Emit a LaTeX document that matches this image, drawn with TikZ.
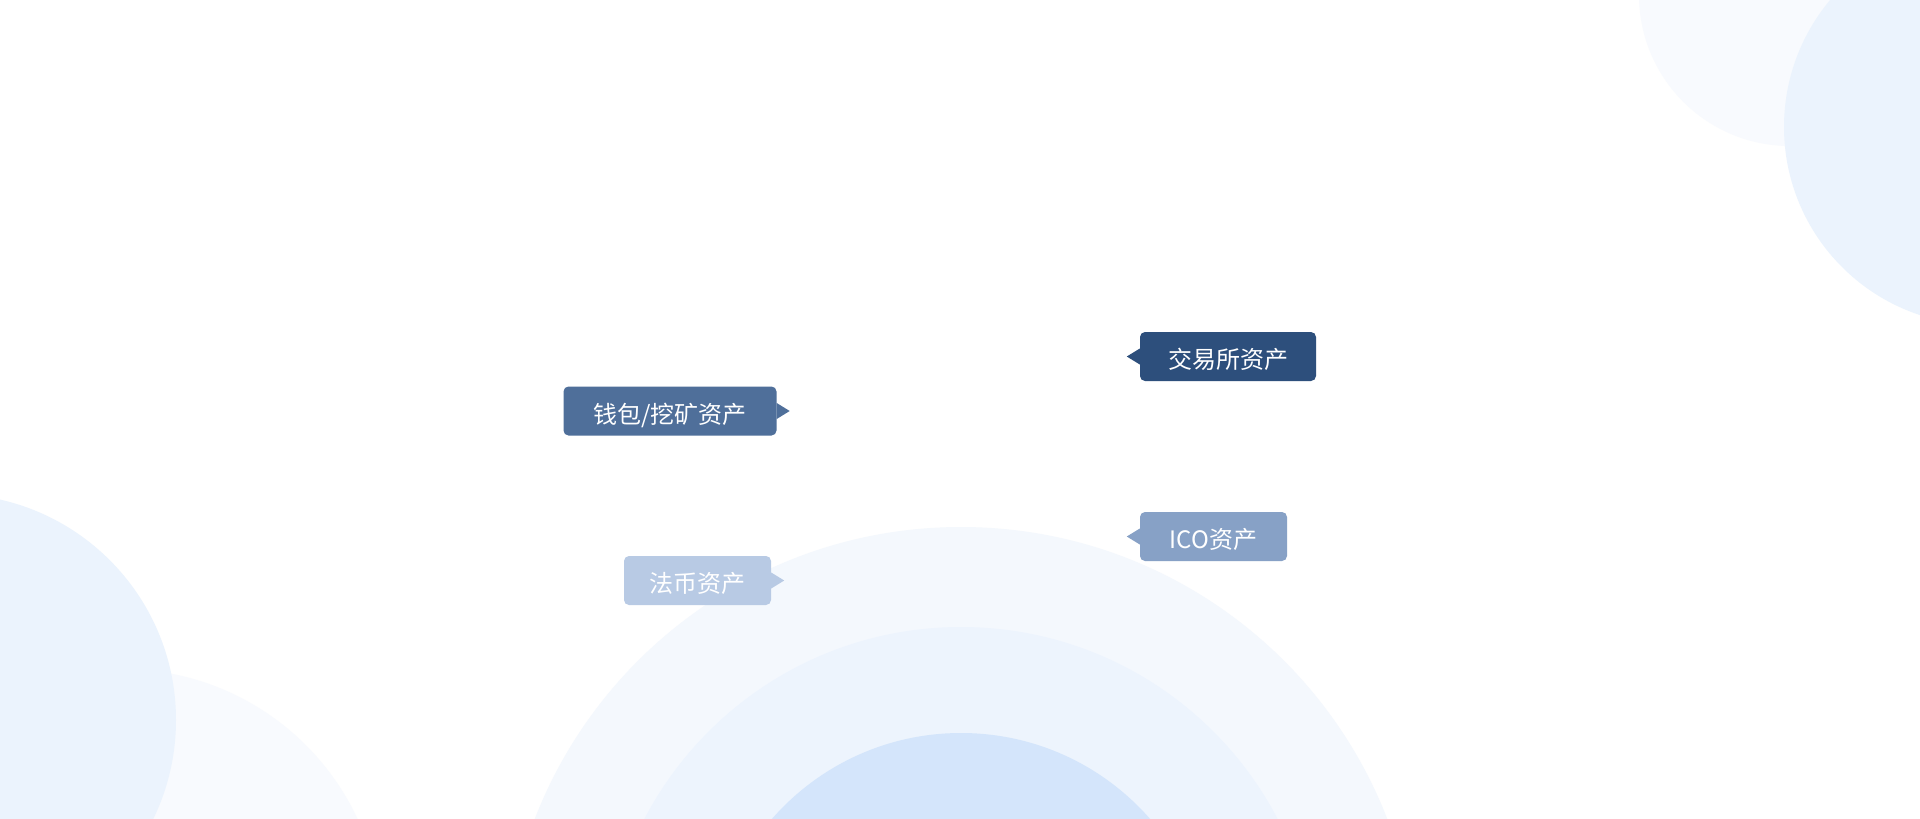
\documentclass[tikz,border=0pt]{standalone}
\usepackage{fontspec}
\setmainfont{Noto Sans CJK SC}
\usepackage{xcolor}
\usepackage{tikz}

\definecolor{paleBlue}{HTML}{F8FAFE}
\definecolor{softBlue}{HTML}{EBF3FD}
\definecolor{ringOuter}{HTML}{F4F8FD}
\definecolor{ringMiddle}{HTML}{EDF4FD}
\definecolor{ringInner}{HTML}{D4E5FB}
\definecolor{tagExchange}{HTML}{2D4F7C}
\definecolor{tagWallet}{HTML}{4F6F9A}
\definecolor{tagFiat}{HTML}{B8CAE4}
\definecolor{tagIco}{HTML}{87A1C6}

\tikzset{
  tag/.style={rounded corners=5pt, minimum height=49pt, inner sep=0pt,
    text height=27pt, text depth=3pt,
    text=white, font=\fontsize{24}{28}\selectfont},
}

\begin{document}
\begin{tikzpicture}[x=1pt, y=-1pt]
    % canvas
    \useasboundingbox (0, 0) rectangle (1920, 819);
    \fill[white] (0, 0) rectangle (1920, 819);
    \clip (0, 0) rectangle (1920, 819);

    % draw corner circles
    \fill[paleBlue] (1790, -5) circle (151);
    \fill[softBlue] (1982, 127) circle (198);
    \fill[paleBlue] (122, 929) circle (260);
    \fill[softBlue] (-50, 720) circle (226);

    % draw rings at the bottom
    \fill[ringOuter] (961, 984) circle (457);
    \fill[ringMiddle] (961, 984) circle (357);
    \fill[ringInner] (961, 984) circle (251);

    % draw tags
    \node[tag, fill=tagExchange, minimum width=176pt] (exchange) at (1228, 356.5) {交易所资产};
    \fill[tagExchange] ([yshift=8pt]exchange.west) -- ++(-13pt, -8pt) -- ([yshift=-8pt]exchange.west) -- cycle;

    \node[tag, fill=tagWallet, minimum width=213pt] (wallet) at (670, 411) {钱包/挖矿资产};
    \fill[tagWallet] ([yshift=8pt]wallet.east) -- ++(13pt, -8pt) -- ([yshift=-8pt]wallet.east) -- cycle;

    \node[tag, fill=tagFiat, minimum width=147pt] (fiat) at (697.5, 580.5) {法币资产};
    \fill[tagFiat] ([yshift=8pt]fiat.east) -- ++(13pt, -8pt) -- ([yshift=-8pt]fiat.east) -- cycle;

    \node[tag, fill=tagIco, minimum width=147pt] (ico) at (1213.5, 536.5) {ICO资产};
    \fill[tagIco] ([yshift=8pt]ico.west) -- ++(-13pt, -8pt) -- ([yshift=-8pt]ico.west) -- cycle;
\end{tikzpicture}
\end{document}
